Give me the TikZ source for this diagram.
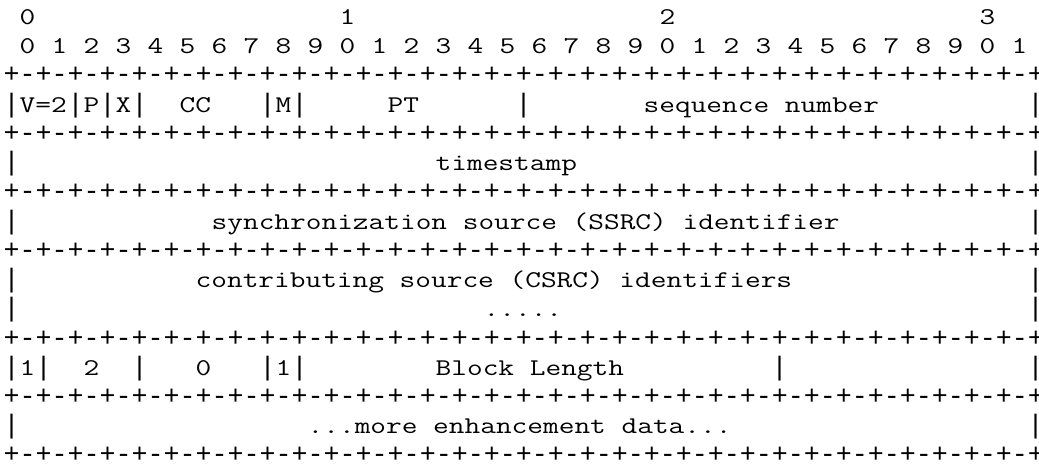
\documentclass[tikz,border=0pt]{standalone}
\usepackage{fontspec}
% typewriter face for the words, widened so that one character cell is 16pt
\newfontfamily\pktfont{Latin Modern Mono}[FakeStretch=1.27]
% plain mono face for the frame characters + - |
\newfontfamily\boxfont{Liberation Mono}
\begin{document}
\begin{tikzpicture}[
    x=16pt, y=-29.23pt,
    chr/.style={anchor=base west, inner sep=0pt, outer sep=0pt,
                font=\pktfont\fontsize{24pt}{29.23pt}\selectfont\frenchspacing},
    frame/.style={anchor=base west, inner sep=0pt, outer sep=0pt,
                font=\boxfont\fontsize{26.67pt}{29.23pt}\selectfont}
  ]
  % page frame: one character cell is 16pt wide, one line 29.23pt high
  \useasboundingbox (-3.7pt,24.5pt) rectangle (1035.3pt,-442.5pt);

  % bit ruler
  \foreach \d in {0,...,3}
    \node[chr] (dec\d) at ({1+20*\d},0) {\d};
  \foreach \n [evaluate=\n as \u using {int(mod(\n,10))}] in {0,...,31}
    \node[chr] (bit\n) at ({1+2*\n},1) {\u};

  % separator lines
  \foreach \r in {2,4,6,8,11,13,15}
    \node[frame] (sep\r) at (0,\r)
      {+-+-+-+-+-+-+-+-+-+-+-+-+-+-+-+-+-+-+-+-+-+-+-+-+-+-+-+-+-+-+-+-+};

  % field delimiters
  \foreach \c in {0,4,6,8,16,18,32,64}
    \node[frame] (bar3-\c) at (\c,3) {|};
  \foreach \r in {5,7,9,10,14}
    \foreach \c in {0,64}
      \node[frame] (bar\r-\c) at (\c,\r) {|};
  \foreach \c in {0,2,8,16,18,48,64}
    \node[frame] (bar12-\c) at (\c,12) {|};

  % first word
  \node[chr] (ver) at (1,3)  {V=2};
  \node[chr] (pad) at (5,3)  {P};
  \node[chr] (ext) at (7,3)  {X};
  \node[chr] (cc)  at (11,3) {CC};
  \node[chr] (mk)  at (17,3) {M};
  \node[chr] (pt)  at (24,3) {PT};
  \node[chr] (seq) at (40,3) {sequence number};

  % fixed header words
  \node[chr] (ts)   at (27,5)  {timestamp};
  \node[chr] (ssrc) at (13,7)  {synchronization source (SSRC) identifier};
  \node[chr] (csrc) at (12,9)  {contributing source (CSRC) identifiers};
  \node[chr] (more) at (30,10) {.....};

  % enhancement block header
  \node[chr] (f1)  at (1,12)  {1};
  \node[chr] (f2)  at (5,12)  {2};
  \node[chr] (f0)  at (12,12) {0};
  \node[chr] (f1b) at (17,12) {1};
  \node[chr] (bl)  at (27,12) {Block Length};

  \node[chr] (data) at (19,14) {...more enhancement data...};
\end{tikzpicture}
\end{document}
